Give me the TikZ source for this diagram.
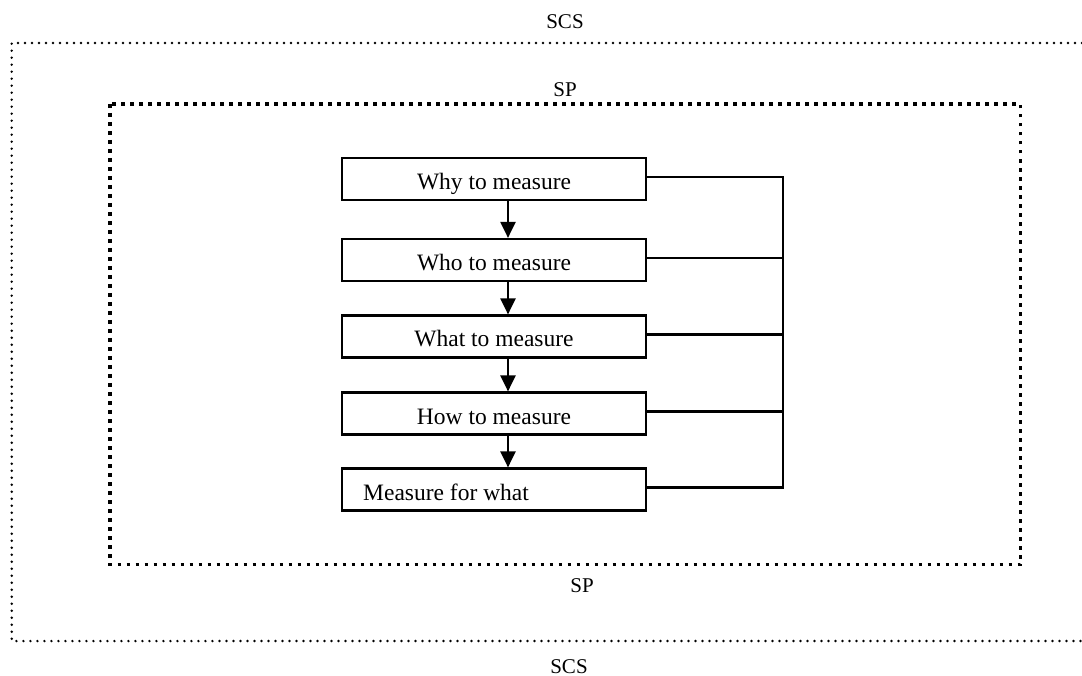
\documentclass[tikz,border=0pt]{standalone}
\usepackage{fontspec}
\setmainfont{Liberation Serif}
\usetikzlibrary{arrows.meta}
\begin{document}
\begin{tikzpicture}[x=1pt,y=-1pt,
  boxfont/.style={font=\fontsize{23.5}{28}\selectfont},
  stepbox/.style={draw, line width=2.2pt, minimum width=304pt, minimum height=42pt,
    inner sep=0pt, text height=21pt, text depth=0pt, boxfont},
  lbl/.style={anchor=base, inner sep=0pt, font=\fontsize{21}{25}\selectfont},
  conn/.style={line width=2.1pt},
  arr/.style={line width=2.2pt, -{Triangle[length=16pt,width=15pt]}},
  outerdot/.style={line width=2.7pt, line cap=round, dash pattern=on 0pt off 7pt},
  innerdot/.style={line width=3.6pt, line cap=butt, dash pattern=on 3.6pt off 5.4pt}]
\useasboundingbox (0,0) rectangle (1082,676);
% frames
\draw[outerdot] (1082,43) -- (11.7,43) -- (11.7,641) -- (1082,641);
\draw[innerdot] (110,104) rectangle (1020.5,564.5);
% labels
\node[lbl] (scsT) at (565,29) {SCS};
\node[lbl] (spT) at (565,97) {SP};
\node[lbl] (spB) at (582,592) {SP};
\node[lbl] (scsB) at (569,673) {SCS};
% boxes
\node[stepbox] (b1) at (494,179) {Why to measure};
\node[stepbox] (b2) at (494,260) {Who to measure};
\node[stepbox] (b3) at (494,336.5) {What to measure};
\node[stepbox] (b4) at (494,413.5) {How to measure};
\node[stepbox] (b5) at (494,489.5) {};
\node[boxfont, anchor=base west, inner sep=0pt] (t5) at (363,500.5) {Measure for what};
% arrows
\coordinate (ax) at (508,0);
\draw[arr] (b1.south -| ax) -- (b2.north -| ax);
\draw[arr] (b2.south -| ax) -- (b3.north -| ax);
\draw[arr] (b3.south -| ax) -- (b4.north -| ax);
\draw[arr] (b4.south -| ax) -- (b5.north -| ax);
% connectors
\coordinate (bus) at (783,300);
\foreach \i in {1,...,5}
  \draw[conn] ([yshift=2pt]b\i.east) coordinate (e\i) -- (e\i -| bus);
\draw[conn, line cap=rect] (e1 -| bus) -- (e5 -| bus);
\end{tikzpicture}
\end{document}
